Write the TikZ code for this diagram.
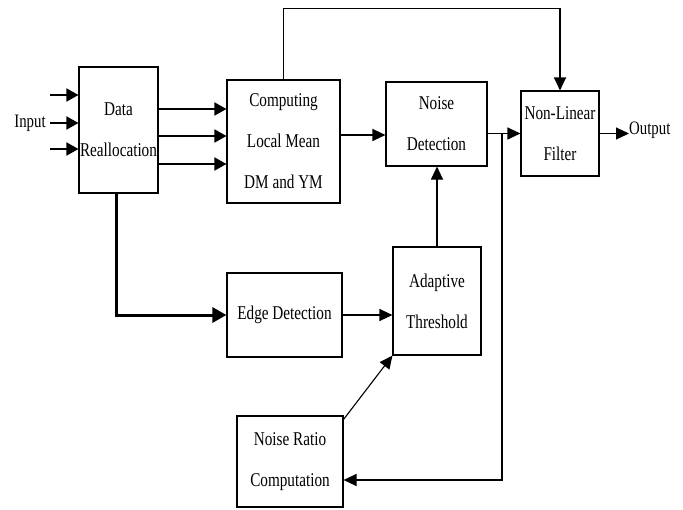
\documentclass[tikz,border=0pt]{standalone}
\usepackage{fontspec}
\setmainfont{Liberation Serif}[FakeStretch=0.78]
\usetikzlibrary{arrows.meta,calc}

\begin{document}
\begin{tikzpicture}
	 [x=1pt,y=-1pt,
	  blk/.style={draw,line width=1.1pt,inner sep=0pt,align=center,
	    font=\fontsize{19.5}{41}\selectfont},
	  txt/.style={inner sep=0pt,font=\fontsize{19}{23}\selectfont},
	  arr/.style={line width=1.1pt,-{Triangle[length=13pt,width=12pt]}},
	  midarr/.style={line width=1.8pt,-{Triangle[length=12pt,width=13pt]}},
	  fatarr/.style={line width=3pt,-{Triangle[length=14pt,width=15pt]}}]

  \useasboundingbox (0,0) rectangle (683,509);

  \node[blk,minimum width=79pt,minimum height=126pt] (dr) at (118.5,130) {Data\\Reallocation};
    \node[blk,minimum width=113pt,minimum height=123pt] (comp) at (283.5,141.5) {Computing\\Local Mean\\DM and YM};
    \node[blk,minimum width=101pt,minimum height=84pt] (nd) at (436.5,124) {Noise\\Detection};
    \node[blk,minimum width=78pt,minimum height=85pt] (nlf) at (560,133.5) {Non-Linear\\Filter};
    \node[blk,minimum width=115pt,minimum height=84pt] (edge) at (284.5,315) {Edge Detection};
    \node[blk,minimum width=88pt,minimum height=108pt] (at) at (437,301) {Adaptive\\Threshold};
    \node[blk,minimum width=106pt,minimum height=91pt] (nr) at (290,461.5) {Noise Ratio\\Computation};

  \node[txt] (inp) at (30,123) {Input};
    \node[txt,anchor=west] (out) at (629,130) {Output};

  % inputs and the three data lines
  \foreach \y [count=\i] in {95,123,149} {\coordinate (in\i) at (50,\y);}
    \foreach \i in {1,2,3}
    \draw[midarr] (in\i) -- (in\i -| dr.west);
    \foreach \y in {109,136,164}
    \draw[midarr] (dr.east |- 0,\y) -- (comp.west |- 0,\y);

  \draw[arr] ([yshift=6.5pt]comp.east) -- ([yshift=6.5pt]comp.east -| nd.west);
    \draw[arr] (nd.east |- nlf.west) -- (nlf.west);
    \draw[arr] (nlf.east) -- (nlf.east -| out.west);
    \draw[arr] (comp.north) -- ++(0,-71) -| (nlf.north);

  \draw[fatarr] ([xshift=-2.5pt]dr.south) |- (edge.west);
    \draw[arr] (edge.east) -- (edge.east -| at.west);
    \draw[arr] (at.north) -- (at.north |- nd.south);
    \draw[arr] ([yshift=-4pt]nr.north east) -- (at.south west);

  % branch back to the noise ratio
  \coordinate (j) at ($(nd.east |- nlf.west)!0.44!(nlf.west)$);
    \draw[arr] (j) |- ([yshift=-18.5pt]nr.east);

\end{tikzpicture}
\end{document}
